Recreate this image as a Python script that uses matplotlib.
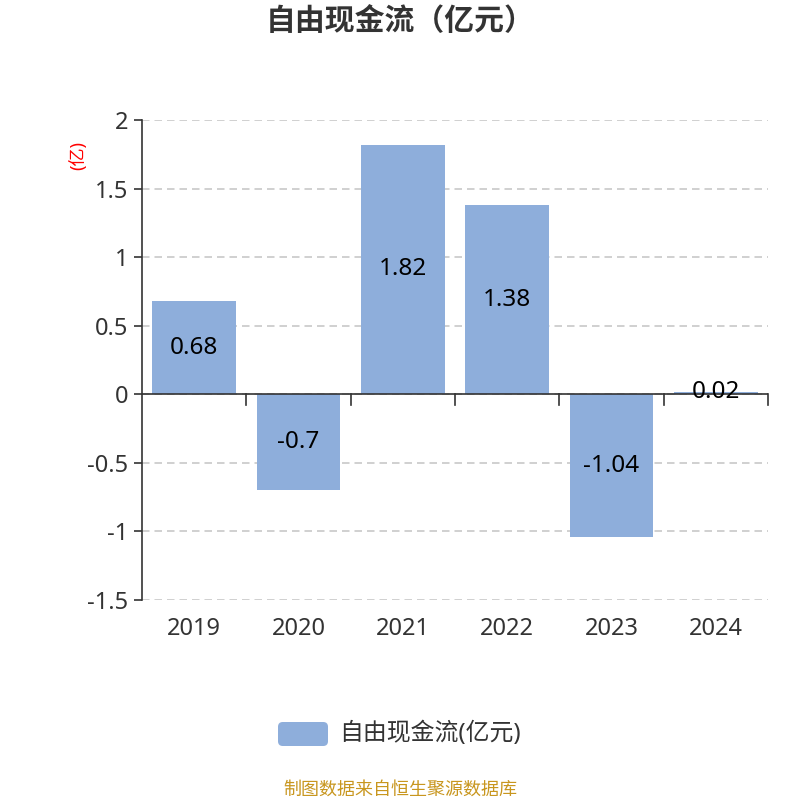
import matplotlib
matplotlib.use("Agg")
import matplotlib.pyplot as plt
from matplotlib.patches import FancyBboxPatch

plt.rcParams['font.family'] = ['Noto Sans', 'Noto Sans CJK SC', 'DejaVu Sans']

# chart data
years = ['2019', '2020', '2021', '2022', '2023', '2024']
fcf = [0.68, -0.7, 1.82, 1.38, -1.04, 0.02]
y_ticks = [-1.5, -1, -0.5, 0, 0.5, 1, 1.5, 2]
y_tick_labels = ['-1.5', '-1', '-0.5', '0', '0.5', '1', '1.5', '2']

bar_color = '#8eaedb'
axis_color = '#333333'

fig = plt.figure(figsize=(8, 8), dpi=100)
ax = fig.add_axes([0.1775, 0.25, 0.7825, 0.60])

x = list(range(len(years)))
ax.bar(x, fcf, width=0.8, color=bar_color, zorder=2)

for xi, v in zip(x, fcf):
    ax.text(xi, v / 2 if abs(v) > 0.1 else v, str(v), ha='center', va='center',
            fontsize=17.5, color='black', zorder=3)

ax.set_xlim(-0.5, len(years) - 0.5)
ax.set_ylim(-1.5, 2)
ax.set_yticks(y_ticks)
ax.set_yticklabels(y_tick_labels)
ax.grid(axis='y', linestyle=(0, (4.5, 3)), color='#c8c8c8', linewidth=1.2, zorder=0)

for s in ['top', 'right', 'bottom']:
    ax.spines[s].set_visible(False)
ax.spines['left'].set_color(axis_color)
ax.spines['left'].set_linewidth(1.2)
ax.axhline(0, color=axis_color, linewidth=1.2, zorder=2)

# category boundary ticks on the zero line
for b in range(1, len(years) + 1):
    ax.plot([b - 0.5, b - 0.5], [0, -0.08], color=axis_color, linewidth=1.2,
            zorder=2, clip_on=False)

ax.tick_params(axis='y', length=6, width=1.2, color=axis_color,
               labelsize=17, labelcolor=axis_color, pad=4)
ax.set_xticks(x)
ax.set_xticklabels(years)
ax.tick_params(axis='x', length=0, labelsize=17, labelcolor=axis_color, pad=12)

fig.text(0.5, 0.972, '自由现金流（亿元）', ha='center', va='center',
         fontsize=21.5, fontweight='bold', color='#333333')
fig.text(0.098, 0.805, '(亿)', ha='center', va='center', rotation=90,
         fontsize=13, color='red')

# legend
patch = FancyBboxPatch((0.3475, 0.0675), 0.0625, 0.03,
                       boxstyle='round,pad=0,rounding_size=0.006',
                       transform=fig.transFigure, facecolor=bar_color,
                       edgecolor='none')
fig.patches.append(patch)
fig.text(0.424, 0.0825, '自由现金流(亿元)', ha='left', va='center',
         fontsize=17.2, color='#333333')

fig.text(0.5, 0.0125, '制图数据来自恒生聚源数据库', ha='center', va='center',
         fontsize=13, color='#c8961e')

fig.savefig('out.png', dpi=100)
